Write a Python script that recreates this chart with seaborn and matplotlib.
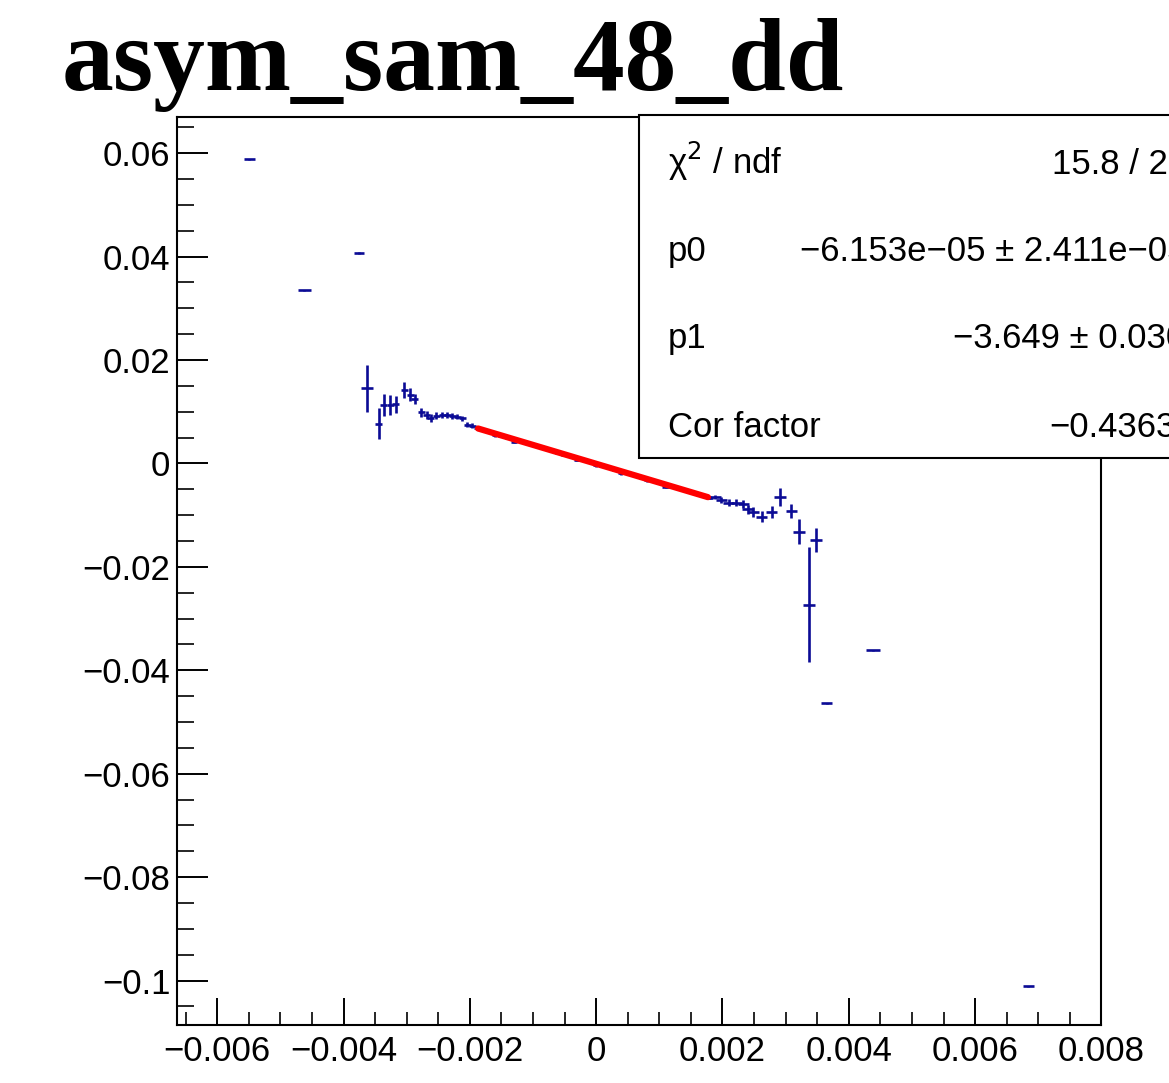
import matplotlib

matplotlib.use("Agg")
import matplotlib.pyplot as plt
import seaborn as sns
import numpy as np
from matplotlib.patches import Rectangle
from matplotlib.ticker import MultipleLocator

# outlying points (tiny errors)
far_x = [-0.00549, -0.00462, -0.00376, 0.00365, 0.00439, 0.00684]
far_y = [0.0588, 0.0335, 0.0407, -0.0464, -0.0361, -0.1011]
far_yerr = [0.0001, 0.0001, 0.0001, 0.0001, 0.0001, 0.0001]
far_xerr = [0.000087, 0.0001, 0.00008, 0.000087, 0.00011, 0.000087]

# left cluster
left_x = [-0.00363, -0.00344, -0.00336, -0.00326, -0.00317, -0.00304, -0.00294,
          -0.00287, -0.00277, -0.00268, -0.00262, -0.00253, -0.00244, -0.00236,
          -0.00228, -0.00220, -0.00212, -0.00204, -0.00196, -0.00188]
left_y = [0.0145, 0.0077, 0.0113, 0.0113, 0.0114, 0.0142, 0.0133, 0.0124, 0.0099,
          0.0093, 0.0088, 0.0092, 0.0093, 0.0093, 0.0092, 0.0090, 0.0087, 0.0075,
          0.0073, 0.0069]
left_yerr = [0.0045, 0.0030, 0.0022, 0.0019, 0.0017, 0.0016, 0.0012, 0.0010,
             0.0009, 0.0008, 0.0008, 0.0007, 0.0006, 0.0006, 0.0006, 0.0005,
             0.0005, 0.0005, 0.0005, 0.0004]

# central points (under the fit)
mid_x = [-0.00180, -0.00170, -0.00160, -0.00150, -0.00140, -0.00130, -0.00120,
         -0.00110, -0.00100, -0.00090, -0.00080, -0.00070, -0.00060, -0.00050,
         -0.00040, -0.00030, -0.00020, -0.00010, 0.00000, 0.00010, 0.00020,
         0.00030, 0.00040, 0.00050, 0.00060, 0.00070, 0.00080, 0.00090, 0.00100,
         0.00110, 0.00120, 0.00130, 0.00140, 0.00150, 0.00160, 0.00170, 0.00180]
mid_y = [0.0066, 0.0062, 0.0055, 0.0054, 0.0050, 0.0042, 0.0043, 0.0040, 0.0036,
         0.0032, 0.0029, 0.0025, 0.0021, 0.0017, 0.0014, 0.0007, 0.0006, 0.0003,
         -0.0003, -0.0004, -0.0008, -0.0012, -0.0019, -0.0019, -0.0023, -0.0027,
         -0.0032, -0.0033, -0.0037, -0.0045, -0.0045, -0.0048, -0.0052, -0.0055,
         -0.0059, -0.0063, -0.0066]
mid_yerr = [0.0003] * len(mid_x)

# right cluster
right_x = [0.00188, 0.00198, 0.00210, 0.00222, 0.00233, 0.00240, 0.00249, 0.00262,
           0.00278, 0.00291, 0.00309, 0.00321, 0.00337, 0.00348]
right_y = [-0.0065, -0.0070, -0.0076, -0.0076, -0.0079, -0.0089, -0.0094, -0.0103,
           -0.0094, -0.0065, -0.0092, -0.0132, -0.0273, -0.0148]
right_yerr = [0.0004, 0.0006, 0.0007, 0.0007, 0.0008, 0.0009, 0.0010, 0.0011,
              0.0012, 0.0018, 0.0013, 0.0024, 0.0111, 0.0024]

# fit result
p0 = -6.153e-05
p1 = -3.649
fit_range = [-0.00187, 0.00177]

x_ticks = [-0.006, -0.004, -0.002, 0, 0.002, 0.004, 0.006, 0.008]
x_labels = ["\u22120.006", "\u22120.004", "\u22120.002", "0", "0.002", "0.004", "0.006", "0.008"]
y_ticks = [0.06, 0.04, 0.02, 0, -0.02, -0.04, -0.06, -0.08, -0.1]
y_labels = ["0.06", "0.04", "0.02", "0", "\u22120.02", "\u22120.04", "\u22120.06", "\u22120.08", "\u22120.1"]

stats_names = ["\u03c7$^{2}$ / ndf", "p0", "p1", "Cor factor"]
stats_values = ["15.8 / 23", "\u22126.153e\u221205 \u00b1 2.411e\u221205",
                "\u22123.649 \u00b1 0.030", "\u22120.4363"]

sns.set_theme(style="ticks")
plt.rcParams["font.family"] = ["Liberation Sans", "DejaVu Sans"]
plt.rcParams["text.color"] = "black"

W, H = 1169, 1083
fig = plt.figure(figsize=(W / 100, H / 100), dpi=100)
ax = fig.add_axes([177.4 / W, 1 - 1025 / H, (1101.4 - 177.4) / W, (1025 - 117) / H])

navy = "#0b0b95"
ebkw = dict(fmt="none", ecolor=navy, elinewidth=1.9, capsize=0, zorder=3)
ax.errorbar(far_x, far_y, xerr=far_xerr, yerr=far_yerr, **ebkw)
ax.errorbar(left_x, left_y, xerr=[0.0001] + [0.000055] * (len(left_x) - 1), yerr=left_yerr, **ebkw)
ax.errorbar(mid_x, mid_y, xerr=0.00005, yerr=mid_yerr, **ebkw)
ax.errorbar(right_x, right_y, xerr=0.00009, yerr=right_yerr, **ebkw)

fit_x = np.linspace(fit_range[0], fit_range[1], 50)
sns.lineplot(x=fit_x, y=p0 + p1 * fit_x, color="red", lw=4.5, ax=ax, zorder=4)

ax.set_xlim(-0.00663, 0.00796)
ax.set_ylim(-0.1086, 0.0670)
ax.set_xticks(x_ticks, x_labels)
ax.set_yticks(y_ticks, y_labels)
ax.xaxis.set_minor_locator(MultipleLocator(0.0005))
ax.yaxis.set_minor_locator(MultipleLocator(0.005))
ax.tick_params(axis="x", which="major", direction="in", length=19.5, width=1.4,
               labelsize=25, pad=7, colors="black")
ax.tick_params(axis="x", which="minor", direction="in", length=9.5, width=1.4)
ax.tick_params(axis="y", which="major", direction="in", length=22, width=1.4,
               labelsize=25, pad=5, colors="black")
ax.tick_params(axis="y", which="minor", direction="in", length=12, width=1.4)
ax.tick_params(which="both", top=False, right=False)
for s in ax.spines.values():
    s.set_linewidth(1.5)
    s.set_color("black")
ax.set_xlabel("")
ax.set_ylabel("")

fig.text(62 / W, 1 - 90 / H, "asym_sam_48_dd", family="Liberation Serif",
         weight="bold", fontsize=74.5, va="baseline", ha="left", color="black")

box = Rectangle((639 / W, 1 - 458 / H), (1200 - 639) / W, (458 - 115) / H,
                transform=fig.transFigure, facecolor="white", edgecolor="black",
                lw=1.5, zorder=5)
fig.add_artist(box)

baselines = [174, 261, 348, 437]
value_x = [1052, 800, 953, 1049]
for name, val, yb, vx in zip(stats_names, stats_values, baselines, value_x):
    fig.text(668 / W, 1 - yb / H, name, fontsize=25, va="baseline", ha="left",
             color="black", zorder=6)
    fig.text(vx / W, 1 - yb / H, val, fontsize=25, va="baseline", ha="left",
             color="black", zorder=6)

fig.savefig("out.png", dpi=100)
